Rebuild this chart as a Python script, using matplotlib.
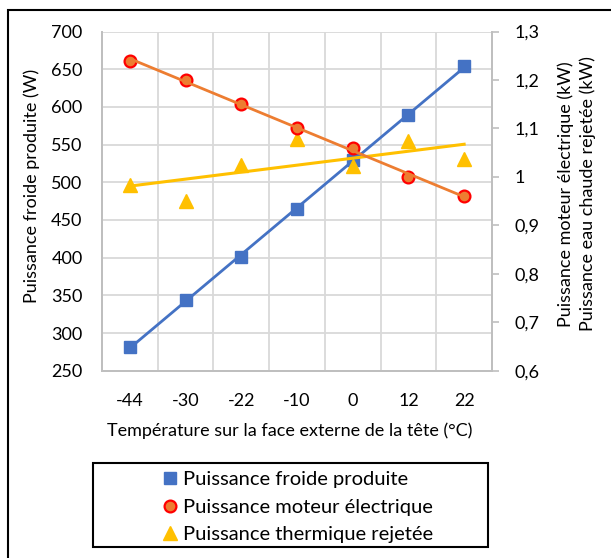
import numpy as np
import matplotlib
matplotlib.use("Agg")
import matplotlib.pyplot as plt
from matplotlib.lines import Line2D
from matplotlib.patches import Rectangle

categories = ["-44", "-30", "-22", "-10", "0", "12", "22"]
froide_W = [281, 344, 401, 465, 529, 589, 654]
moteur_kW = [1.24, 1.20, 1.15, 1.10, 1.06, 1.00, 0.96]
thermique_kW = [0.983, 0.950, 1.025, 1.079, 1.023, 1.073, 1.036]
left_ticks = [250, 300, 350, 400, 450, 500, 550, 600, 650, 700]
right_ticks = [0.6, 0.7, 0.8, 0.9, 1.0, 1.1, 1.2, 1.3]
right_labels = ["0,6", "0,7", "0,8", "0,9", "1", "1,1", "1,2", "1,3"]

BLUE = "#4472C4"
ORANGE = "#ED7D31"
YELLOW = "#FFC000"
GRID = "#D9D9D9"
AX = "#BFBFBF"

plt.rcParams['font.family'] = ['Lato', 'DejaVu Sans']
FS = 13
LFS = 14.5

W, H = 611, 558
fig = plt.figure(figsize=(W / 100, H / 100), dpi=100)
ax = fig.add_axes([102 / W, 1 - 370.7 / H, (492 - 102) / W, (370.7 - 31.5) / H])
ax2 = ax.twinx()

x = np.arange(len(categories))

def trend(xv, yv):
    c = np.polyfit(xv, yv, 1)
    return np.polyval(c, xv)

ax.plot(x, trend(x, froide_W), color=BLUE, lw=2.0, zorder=3)
ax.plot(x, froide_W, ls='none', marker='s', ms=9, color=BLUE, zorder=4)

ax2.plot(x, thermique_kW, ls='none', marker='^', ms=10, color=YELLOW, zorder=3)
ax2.plot(x, trend(x, thermique_kW), color=YELLOW, lw=2.2, zorder=4)
ax2.plot(x, moteur_kW, ls='none', marker='o', ms=8.5, mfc=ORANGE, mec='#FF0000',
         mew=1.6, zorder=5)
ax2.plot(x, trend(x, moteur_kW), color=ORANGE, lw=2.0, zorder=6)

ax.set_xlim(-0.5, len(categories) - 0.5)
ax.set_ylim(250, 700)
ax2.set_ylim(0.6, 1.3)

ax.set_xticks(x)
ax.set_xticklabels(categories, fontsize=FS)
ax.set_xticks(np.arange(0.5, len(categories) - 1, 1.0), minor=True)
ax.set_yticks(left_ticks)
ax.set_yticklabels([str(v) for v in left_ticks], fontsize=FS)
ax.tick_params(axis='x', which='both', length=0, pad=16)
ax.tick_params(axis='y', length=0, pad=14)
ax.grid(True, axis='y', which='major', color=GRID, lw=1.3)
ax.grid(True, axis='x', which='minor', color=GRID, lw=1.3)
ax.set_axisbelow(True)

ax2.set_yticks(right_ticks)
ax2.set_yticklabels(right_labels, fontsize=FS)
ax2.tick_params(axis='y', length=5, width=1.2, color=AX, pad=11)

for a in (ax, ax2):
    a.spines['top'].set_visible(False)
    for s in ('left', 'right', 'bottom'):
        a.spines[s].set_color(AX)
        a.spines[s].set_linewidth(1.3)

fig.text(32 / W, 1 - 186 / H, "Puissance froide produite (W)", rotation=90,
         ha='center', va='center', fontsize=FS)
fig.text(566 / W, 1 - 194 / H, "Puissance moteur électrique (kW)", rotation=90,
         ha='center', va='center', fontsize=FS)
fig.text(588 / W, 1 - 194 / H, "Puissance eau chaude rejetée (kW)", rotation=90,
         ha='center', va='center', fontsize=FS)
fig.text(290 / W, 1 - 431 / H, "Température sur la face externe de la tête (°C)",
         ha='center', va='center', fontsize=FS)

# outer chart border
fig.patches.append(Rectangle((8 / W, -0.05), 1.1, 1.05 - 10 / H, transform=fig.transFigure,
                             fill=False, edgecolor='black', lw=1.5))
# legend box
fig.patches.append(Rectangle((93 / W, 1 - 547 / H), (488 - 93) / W, (547 - 463) / H,
                             transform=fig.transFigure, fill=False, edgecolor='black', lw=1.5))

handles = [
    Line2D([], [], ls='none', marker='s', ms=9, color=BLUE),
    Line2D([], [], ls='none', marker='o', ms=8.5, mfc=ORANGE, mec='#FF0000', mew=1.6),
    Line2D([], [], ls='none', marker='^', ms=10, color=YELLOW),
]
labels = ["Puissance froide produite", "Puissance moteur électrique",
          "Puissance thermique rejetée"]
fig.legend(handles, labels, loc='upper left', bbox_to_anchor=(158 / W, 1 - 467 / H),
           frameon=False, fontsize=LFS, handlelength=0.8, handletextpad=0.25,
           labelspacing=0.52, borderpad=0.2, borderaxespad=0)

fig.savefig("out.png", dpi=100)
